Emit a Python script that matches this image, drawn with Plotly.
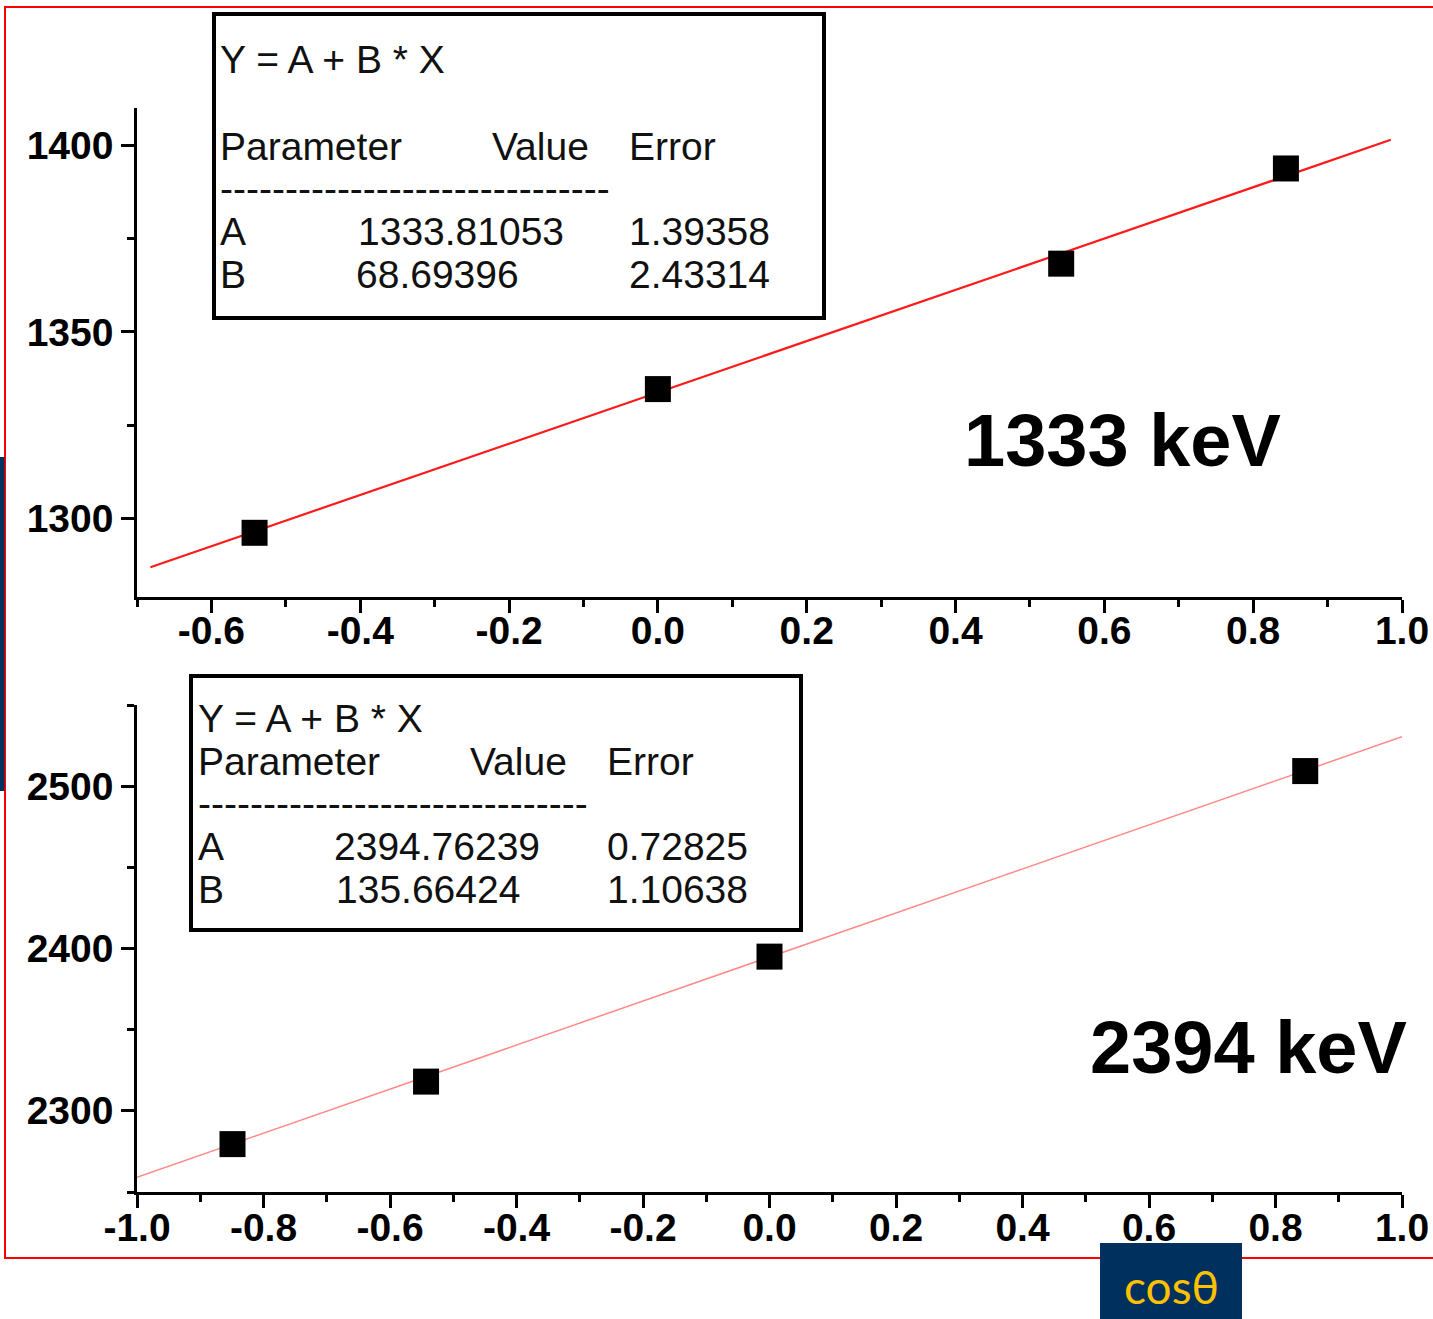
import plotly.graph_objects as go

W, H = 1433, 1319

# ---- 1333 keV: measured centroid vs cos(theta) ----
cos_1333 = [-0.542, 0.0, 0.542, 0.844]
energy_1333 = [1296.2, 1334.7, 1368.3, 1393.8]
fit_1333_A = "1333.81053"
fit_1333_B = "68.69396"
fit_1333_A_err = "1.39358"
fit_1333_B_err = "2.43314"
fit_1333_xspan = [-0.682, 0.985]

# ---- 2394 keV ----
cos_2394 = [-0.849, -0.543, 0.0, 0.847]
energy_2394 = [2279.5, 2318.0, 2395.0, 2509.3]
fit_2394_A = "2394.76239"
fit_2394_B = "135.66424"
fit_2394_A_err = "0.72825"
fit_2394_B_err = "1.10638"
fit_2394_xspan = [-1.0, 1.0]

# tick labels
xt_top = [-0.6, -0.4, -0.2, 0.0, 0.2, 0.4, 0.6, 0.8, 1.0]
xt_top_txt = ["-0.6", "-0.4", "-0.2", "0.0", "0.2", "0.4", "0.6", "0.8", "1.0"]
xt_bot = [-1.0, -0.8, -0.6, -0.4, -0.2, 0.0, 0.2, 0.4, 0.6, 0.8, 1.0]
xt_bot_txt = ["-1.0", "-0.8", "-0.6", "-0.4", "-0.2", "0.0", "0.2", "0.4", "0.6", "0.8", "1.0"]
yt_top = [1300, 1350, 1400]
yt_bot = [2300, 2400, 2500]


def px(x):
    return x / W


def py(y):
    return 1 - y / H


def fit_line(A, B, xs):
    a, b = float(A), float(B)
    return [a + b * x for x in xs]


fig = go.Figure()

fig.add_trace(go.Scatter(
    x=fit_1333_xspan, y=fit_line(fit_1333_A, fit_1333_B, fit_1333_xspan),
    mode="lines", line=dict(color="#ff1a1a", width=2.2),
    xaxis="x", yaxis="y", hoverinfo="skip"))
fig.add_trace(go.Scatter(
    x=cos_1333, y=energy_1333, mode="markers",
    marker=dict(symbol="square", size=26, color="black", line=dict(width=0)),
    xaxis="x", yaxis="y"))

fig.add_trace(go.Scatter(
    x=fit_2394_xspan, y=fit_line(fit_2394_A, fit_2394_B, fit_2394_xspan),
    mode="lines", line=dict(color="rgba(255,40,40,0.55)", width=1.5),
    xaxis="x2", yaxis="y2", hoverinfo="skip"))
fig.add_trace(go.Scatter(
    x=cos_2394, y=energy_2394, mode="markers",
    marker=dict(symbol="square", size=26, color="black", line=dict(width=0)),
    xaxis="x2", yaxis="y2"))

tickfont = dict(family="Liberation Sans, Arial, sans-serif", size=39,
                color="black", weight="bold")
axis_common = dict(
    showline=True, linecolor="black", linewidth=2.5,
    ticks="outside", ticklen=13, tickwidth=2.5, tickcolor="black",
    showgrid=False, zeroline=False, tickfont=tickfont, fixedrange=True,
    automargin=False,
)

x_dom = [px(137), px(1402)]
fig.update_layout(
    width=W, height=H,
    margin=dict(l=0, r=0, t=0, b=0, autoexpand=False),
    paper_bgcolor="white", plot_bgcolor="white",
    showlegend=False,
    xaxis=dict(domain=x_dom, range=[-0.7, 1.0], anchor="y",
               tickmode="array", tickvals=xt_top, ticktext=xt_top_txt,
               ticklabelstandoff=-16,
               minor=dict(dtick=0.1, tick0=0, ticks="outside", ticklen=7,
                          tickwidth=2.5, tickcolor="black"),
               **axis_common),
    yaxis=dict(domain=[py(597), py(108)], range=[1279, 1410], anchor="x",
               tickmode="array", tickvals=yt_top,
               minor=dict(dtick=25, tick0=0, ticks="outside", ticklen=7,
                          tickwidth=2.5, tickcolor="black"),
               **axis_common),
    xaxis2=dict(domain=x_dom, range=[-1.0, 1.0], anchor="y2",
                tickmode="array", tickvals=xt_bot, ticktext=xt_bot_txt,
                ticklabelstandoff=-14,
                minor=dict(dtick=0.1, tick0=0, ticks="outside", ticklen=7,
                           tickwidth=2.5, tickcolor="black"),
                **axis_common),
    yaxis2=dict(domain=[py(1192), py(705)], range=[2250, 2550], anchor="x2",
                tickmode="array", tickvals=yt_bot,
                minor=dict(dtick=50, tick0=0, ticks="outside", ticklen=7,
                           tickwidth=2.5, tickcolor="black"),
                **axis_common),
)

shapes = [
    # outer red frame
    dict(type="rect", xref="paper", yref="paper",
         x0=px(5), x1=px(1445), y0=py(1258), y1=py(7),
         line=dict(color="#ff0000", width=2), layer="above"),
    # navy side strip
    dict(type="rect", xref="paper", yref="paper",
         x0=0, x1=px(4.5), y0=py(791), y1=py(457),
         fillcolor="#00305e", line=dict(width=0), layer="above"),
    # fit-result boxes
    dict(type="rect", xref="paper", yref="paper",
         x0=px(214), x1=px(824), y0=py(318), y1=py(14),
         line=dict(color="black", width=4), layer="above"),
    dict(type="rect", xref="paper", yref="paper",
         x0=px(191), x1=px(801), y0=py(930), y1=py(676),
         line=dict(color="black", width=4), layer="above"),
    # axis caption badge
    dict(type="rect", xref="paper", yref="paper",
         x0=px(1100), x1=px(1242), y0=py(1319), y1=py(1243),
         fillcolor="#00305e", line=dict(width=0), layer="above"),
]
fig.update_layout(shapes=shapes)

box_font = dict(family="Liberation Sans, Arial, sans-serif", size=39, color="#111111")
dashes = "-" * 30


def txt(x, y, s, font, xanchor="left"):
    return dict(x=px(x), y=py(y), xref="paper", yref="paper", text=s,
                showarrow=False, xanchor=xanchor, yanchor="middle",
                font=font, borderpad=0)


ann = []
# top fit box
ann += [
    txt(219, 60, "Y = A + B * X", box_font),
    txt(219, 147, "Parameter", box_font),
    txt(491, 147, "Value", box_font),
    txt(628, 147, "Error", box_font),
    txt(219, 188, dashes, box_font),
    txt(219, 231, "A", box_font),
    txt(357, 231, fit_1333_A, box_font),
    txt(628, 231, fit_1333_A_err, box_font),
    txt(219, 274, "B", box_font),
    txt(355, 274, fit_1333_B, box_font),
    txt(628, 274, fit_1333_B_err, box_font),
]
# bottom fit box
ann += [
    txt(197, 718, "Y = A + B * X", box_font),
    txt(197, 761, "Parameter", box_font),
    txt(469, 761, "Value", box_font),
    txt(606, 761, "Error", box_font),
    txt(197, 803, dashes, box_font),
    txt(197, 846, "A", box_font),
    txt(333, 846, fit_2394_A, box_font),
    txt(606, 846, fit_2394_A_err, box_font),
    txt(197, 889, "B", box_font),
    txt(335, 889, fit_2394_B, box_font),
    txt(606, 889, fit_2394_B_err, box_font),
]
big_font = dict(family="Liberation Sans, Arial, sans-serif", size=74,
                color="black", weight="bold")
ann += [
    txt(1122, 440, "1333 keV", big_font, xanchor="center"),
    txt(1248, 1047, "2394 keV", big_font, xanchor="center"),
    txt(1171, 1286, "cosθ", dict(family="Lato, Noto Sans, sans-serif",
                                 size=46, color="#ffc000"), xanchor="center"),
]
fig.update_layout(annotations=ann)

fig.write_html("out.html")
